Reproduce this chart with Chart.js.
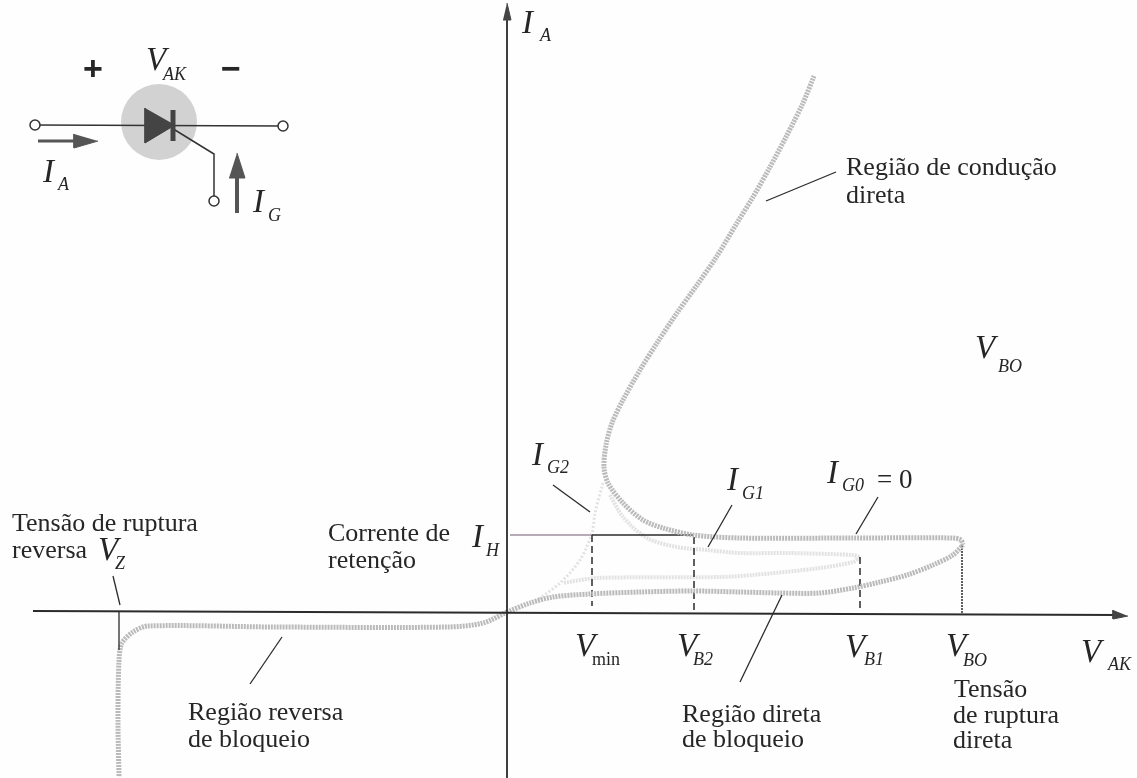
<!DOCTYPE html>
<html>
<head>
<meta charset="utf-8">
<title>Curva do SCR</title>
<script src="https://cdn.jsdelivr.net/npm/chart.js@4"></script>
<style>
  html, body { margin: 0; padding: 0; background: #fefefe; }
  canvas { display: block; }
</style>
</head>
<body>
<canvas id="chart" width="1137" height="778"></canvas>
<script>
// curves, as [V, I] (origin at the axes crossing)
const conduction = [[307,536],[296,509],[280,477],[263,445],[246,415],[230,389],[210,356],[190,327],[170,299],[150,269],[133,242],[116,212],[105,189],[99,167],[97,145],[101,129],[116,109],[136,92],[156,84],[186,77],[233,74],[346,74],[446,74],[454,72],[456,67]];
const forwardBlocking = [[0,0],[23,9],[46,15],[83,18],[133,20],[186,21],[233,20],[273,19],[313,19],[346,24],[373,30],[400,37],[426,47],[446,57],[456,67]];
const reverseBlocking = [[0,0],[-24,-11],[-59,-15],[-231,-15],[-359,-14],[-374,-20],[-385,-31],[-388,-48],[-389,-108],[-388,-165]];
const gateCurve2 = [[96,129],[88,99],[85,79],[73,52],[53,29],[26,9]];
const gateCurve1Top = [[103,117],[116,95],[140,74],[170,65],[200,62],[233,59],[280,59],[346,57],[353,55]];
const gateCurve1Low = [[353,55],[346,50],[313,44],[246,37],[213,35],[90,34],[56,29]];

const holdLeft = [[3,77],[85,77]];
const holdRight = [[85,77],[186,77]];
const dropVmin = [[85,77],[85,6]];
const dropVb2 = [[187,75],[187,2]];
const dropVb1 = [[353,55],[353,2]];
const dropVbo = [[455,67],[455,-2]];

const axisV = [[-474,1],[612,-3]];
const axisI = [[0,596],[0,-166]];
const arrowV = [[606,2],[606,-7],[621,-4]];
const arrowI = [[-4,592],[4,592],[0,609]];

const leaders = [
  [[46,127],[83,100]],
  [[225,107],[201,65]],
  [[371,115],[349,78]],
  [[275,17],[233,-70]],
  [[-225,-25],[-257,-72]],
  [[-394,36],[-387,7]],
  [[-388,0],[-388,-38]],
  [[329,440],[259,411]]
];

// thyristor symbol
const wire = [[-472,487],[-224,486]];
const diode = [[-362,504],[-362,469],[-332,487]];
const gateBar = [[-334,502],[-334,471]];
const gateLead = [[-332,482],[-293,458],[-293,416]];
const shaftA = [[-469,471],[-432,471]];
const headA = [[-433,478],[-433,464],[-409,471]];
const shaftG = [[-270,399],[-270,435]];
const headG = [[-278,434],[-262,434],[-270,459]];
const disk = [[-348,490]];
const terminals = [[-472,487],[-224,486],[-293,411]];

// text, V, I, font
const labels = [
  ["I",15,579,"big"],["A",33,571,"sub"],
  ["+",-424,532,"sign"],["−",-286,532,"sign"],
  ["V",-361,542,"big"],["AK",-344,532,"sub"],
  ["I",-464,430,"big"],["A",-449,422,"sub"],
  ["I",-254,400,"big"],["G",-239,391,"sub"],
  ["Região de condução",339,437,"txt"],["direta",339,409,"txt"],
  ["V",468,254,"big"],["BO",491,240,"sub"],
  ["I",25,147,"big"],["G2",40,139,"sub"],
  ["I",220,122,"big"],["G1",235,113,"sub"],
  ["I",320,129,"big"],["G0",335,121,"sub"],["= 0",370,124,"num"],
  ["Tensão de ruptura",-495,81,"txt"],["reversa",-495,54,"txt"],
  ["V",-409,52,"big"],["Z",-392,43,"sub"],
  ["Corrente de",-179,71,"txt"],["retenção",-179,44,"txt"],
  ["I",-35,65,"big"],["H",-21,56,"sub"],
  ["Região reversa",-319,-108,"txt"],["de bloqueio",-319,-135,"txt"],
  ["V",68,-44,"big"],["min",85,-53,"subUp"],
  ["V",170,-44,"big"],["B2",186,-53,"sub"],
  ["V",338,-45,"big"],["B1",357,-53,"sub"],
  ["V",439,-44,"big"],["BO",456,-54,"sub"],
  ["V",574,-50,"big"],["AK",601,-58,"sub"],
  ["Tensão",447,-85,"txt"],["de ruptura",446,-111,"txt"],["direta",446,-136,"txt"],
  ["Região direta",175,-110,"txt"],["de bloqueio",175,-135,"txt"]
];

const fonts = {
  big: 'italic 33px "Liberation Serif"',
  sub: 'italic 18px "Liberation Serif"',
  subUp: '18px "Liberation Serif"',
  txt: '26px "Liberation Serif"',
  num: '27px "Liberation Serif"',
  sign: 'bold 34px "Liberation Sans"'
};

const toPoints = (pairs) => pairs.map((p) => ({ x: p[0], y: p[1] }));

const curve = (pairs, color, width, dash) => ({
  data: toPoints(pairs),
  showLine: true,
  borderColor: color,
  borderWidth: width,
  borderDash: dash || [],
  tension: 0.3,
  pointRadius: 0,
  fill: false
});

const stroke = (pairs, color, width, dash) => {
  const d = curve(pairs, color, width, dash);
  d.tension = 0;
  return d;
};

const solid = (pairs, color) => ({
  data: toPoints(pairs),
  showLine: true,
  borderColor: color,
  borderWidth: 1,
  backgroundColor: color,
  tension: 0,
  pointRadius: 0,
  fill: "shape"
});

const dots = (pairs, radius, fillColor, edgeColor, edgeWidth) => ({
  data: toPoints(pairs),
  showLine: false,
  pointRadius: radius,
  pointBackgroundColor: fillColor,
  pointBorderColor: edgeColor,
  pointBorderWidth: edgeWidth
});

const gray = "#bababa";
const faint = "#e2e2e2";
const ink = "#2b2b2b";

// draws the labels through the scales, chart has no visible axes
const textLabels = {
  id: "textLabels",
  afterDatasetsDraw(chart) {
    const ctx = chart.ctx;
    ctx.save();
    ctx.fillStyle = "#262626";
    ctx.textBaseline = "alphabetic";
    labels.forEach((l) => {
      ctx.font = fonts[l[3]];
      ctx.fillText(l[0], chart.scales.x.getPixelForValue(l[1]), chart.scales.y.getPixelForValue(l[2]));
    });
    ctx.restore();
  }
};

// listed bottom layer first, chart.js paints the first dataset on top so it gets reversed
const layers = [
  dots(disk, 38, "#d2d2d2", "#d2d2d2", 0),
  stroke(wire, "#333", 1.5),
  solid(diode, "#444"),
  stroke(gateBar, "#444", 5),
  stroke(gateLead, "#333", 1.5),
  stroke(shaftA, "#555", 3),
  solid(headA, "#555"),
  stroke(shaftG, "#555", 4),
  solid(headG, "#555"),
  dots(terminals, 5, "#fff", "#333", 1.5),

  curve(gateCurve2, faint, 3, [2, 2]),
  curve(gateCurve1Top, faint, 4, [2, 1]),
  curve(gateCurve1Low, faint, 4, [2, 1]),

  stroke(holdLeft, "#a08fa0", 1.5),
  stroke(holdRight, ink, 1.5),
  stroke(dropVmin, ink, 1.5, [7, 4]),
  stroke(dropVb2, ink, 1.5, [7, 4]),
  stroke(dropVb1, ink, 1.5, [7, 4]),
  stroke(dropVbo, ink, 1.5, [2, 1]),

  curve(conduction, gray, 5, [2, 1]),
  curve(forwardBlocking, gray, 5, [2, 1]),
  curve(reverseBlocking, gray, 5, [2, 1]),

  stroke(axisV, ink, 1.8),
  stroke(axisI, ink, 1.8),
  solid(arrowV, "#444"),
  solid(arrowI, "#444"),
  ...leaders.map((l) => stroke(l, ink, 1.3))
];

new Chart(document.getElementById("chart"), {
  type: "scatter",
  data: { datasets: layers.reverse() },
  options: {
    responsive: false,
    animation: false,
    layout: { padding: 0, autoPadding: false },
    plugins: { legend: { display: false }, tooltip: { enabled: false } },
    scales: {
      x: { type: "linear", display: false, min: -507, max: 630 },
      y: { type: "linear", display: false, min: -166, max: 612 }
    }
  },
  plugins: [textLabels]
});
</script>
</body>
</html>
